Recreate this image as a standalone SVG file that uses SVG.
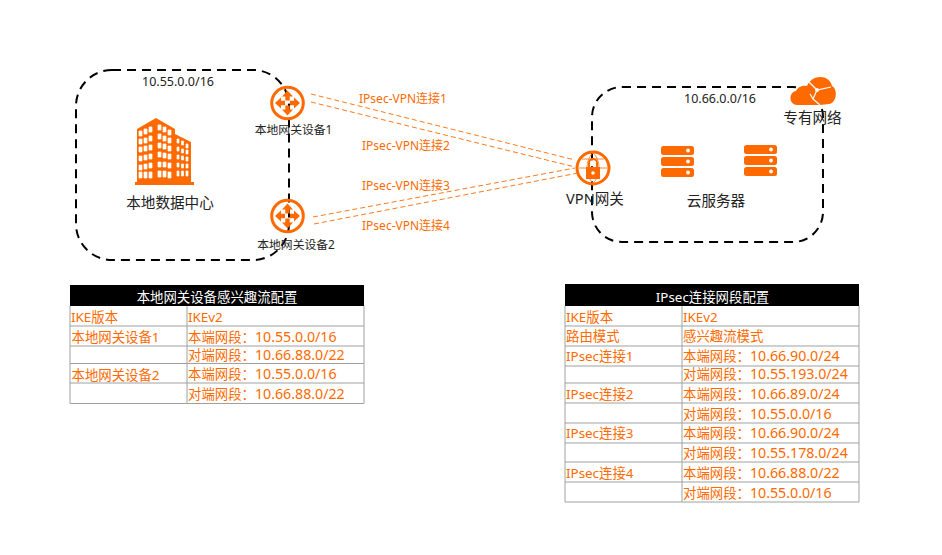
<svg xmlns="http://www.w3.org/2000/svg" width="942" height="555" viewBox="0 0 942 555">
<defs>
<style>
text{font-family:"Noto Sans","Noto Sans CJK SC",sans-serif;}
.k{fill:#222;}
.o{fill:#ff6a00;}
.t{fill:#ff6a00;font-size:13.400px;}
.t tspan{font-size:14.200px;}
.l{fill:#ff6a00;font-size:12px;text-anchor:middle;}
.w{fill:#fff;font-size:13.400px;text-anchor:middle;}
.box{fill:none;stroke:#000;stroke-width:2;stroke-dasharray:9 6;}
.link{fill:none;stroke:#ff7a1a;stroke-width:1;stroke-dasharray:5 3;}
.grid{stroke:#a0a0a0;stroke-width:1;fill:none;}
.ring{fill:none;stroke:#ff6a00;stroke-width:3;}
</style>
<g id="router">
<circle class="ring" r="15.800"/>
<path class="o" d="M0-12.500 5.500-6.500H2.200V-2.500H-2.200V-6.500H-5.500ZM0 12.500 5.500 6.500H2.200V2.500H-2.200V6.500H-5.500ZM-12.500 0-6.500-5.500V-2.200H-2.500V2.200H-6.500V5.500ZM12.500 0 6.500-5.500V-2.200H2.500V2.200H6.500V5.500Z"/>
</g>
<g id="server">
<rect class="o" x="0" y="0" width="33" height="9" rx="2.500"/>
<rect class="o" x="0" y="11" width="33" height="9" rx="2.500"/>
<rect class="o" x="0" y="22" width="33" height="9" rx="2.500"/>
<circle cx="27" cy="4.500" r="1.900" fill="#fff"/><circle cx="27" cy="15.500" r="1.900" fill="#fff"/><circle cx="27" cy="26.500" r="1.900" fill="#fff"/>
</g>
</defs>
<rect width="942" height="555" fill="#fff"/>

<g id="local-dc">
<rect class="box" x="76" y="70" width="213" height="190" rx="36"/>
<text x="178" y="86" class="k" font-size="12.500" text-anchor="middle">10.55.0.0/16</text>
<g id="building">
<path class="o" d="M137 182V129L156 118 175 129V134L191 142V182H194V185H135V182Z"/>
<path fill="#fff" stroke="#fff" stroke-width=".7" d="M139 131h3v5h-3zM144 129h3v5h-3zM149 127h3v5h-3zM158 125h3v5h-3zM163 127h3v5h-3zM168 130h3v5h-3zM139 139h3v5h-3zM144 138h3v5h-3zM149 136h3v5h-3zM158 134h3v5h-3zM163 136h3v5h-3zM168 138h3v5h-3zM139 147h3v5h-3zM144 146h3v5h-3zM149 145h3v5h-3zM158 143h3v5h-3zM163 144h3v5h-3zM168 146h3v5h-3zM139 156h3v5h-3zM144 155h3v5h-3zM149 154h3v5h-3zM158 152h3v5h-3zM163 153h3v5h-3zM168 154h3v5h-3zM139 165h3v5h-3zM144 164h3v5h-3zM149 163h3v5h-3zM158 162h3v5h-3zM163 162h3v5h-3zM168 163h3v5h-3zM139 172h3v6h-3zM144 172h3v6h-3zM149 172h3v6h-3zM158 171h3v6h-3zM163 171h3v6h-3zM168 172h3v6h-3zM177 139h2v4h-2zM181.500 141h2v4h-2zM186 144h2v4h-2zM177 147h2v4h-2zM181.500 149h2v4h-2zM186 150h2v4h-2zM177 155h2v4h-2zM181.500 156h2v4h-2zM186 157h2v4h-2zM177 163h2v4h-2zM181.500 164h2v4h-2zM186 164h2v4h-2zM177 171h2v5h-2zM181.500 171h2v5h-2zM186 171h2v5h-2z"/>
</g>
<text x="170" y="208" class="k" font-size="14.600" text-anchor="middle">本地数据中心</text>
</g>

<g id="connectors">
<path class="link" d="M311 94 575 160"/>
<path class="link" d="M311 102 575 167"/>
<path class="link" d="M313 217 575 168"/>
<path class="link" d="M314 224 578 173"/>
</g>

<g id="router1">
<use href="#router" x="287.500" y="103"/>
<text x="293.500" y="134" class="k" font-size="11.800" text-anchor="middle">本地网关设备1</text>
</g>
<g id="router2">
<use href="#router" x="287.500" y="216"/>
<text x="296" y="249" class="k" font-size="11.800" text-anchor="middle">本地网关设备2</text>
</g>

<g id="link-labels">
<text x="403" y="103" class="l">IPsec-VPN连接1</text>
<text x="406" y="150" class="l">IPsec-VPN连接2</text>
<text x="406" y="190" class="l">IPsec-VPN连接3</text>
<text x="406" y="230" class="l">IPsec-VPN连接4</text>
</g>

<g id="vpc">
<rect class="box" x="592" y="87" width="231" height="155" rx="30"/>
<text x="720" y="103" class="k" font-size="12.500" text-anchor="middle">10.66.0.0/16</text>
<g id="cloud">
<path class="o" d="M797 105C788 104 789 92 796 91 798 86 804 85 807 86 811 75 829 73 832 86 838 89 837 103 829 104L820 105Z"/>
<path fill="none" stroke="#fff" stroke-width="1.200" d="M806 79 817 90 831 87M817 90 813 99 820 105M813 99 810 94"/>
<circle cx="817" cy="90" r="2" fill="#fff"/>
</g>
<text x="812.500" y="123" class="k" font-size="14.600" text-anchor="middle">专有网络</text>
<use href="#server" x="661" y="146"/>
<use href="#server" x="744" y="145"/>
<text x="716" y="206" class="k" font-size="14.600" text-anchor="middle">云服务器</text>
</g>

<g id="vpn-gateway">
<circle class="ring" cx="593" cy="168" r="16"/>
<path fill="none" stroke="#ff6a00" stroke-width=".8" d="M579 168H607M593 153C585 160 585 176 593 183M593 153C601 160 601 176 593 183M582 159H604"/>
<rect class="o" x="586" y="167" width="14" height="12"/>
<path fill="none" stroke="#ff6a00" stroke-width="2" d="M589 167V163A4 4 0 0 1 597 163V167"/>
<circle cx="593" cy="173" r="1.800" fill="#fff"/>
<text x="595" y="204" class="k" font-size="14.600" text-anchor="middle">VPN网关</text>
</g>

<g id="table-local">
<rect x="70" y="285" width="294" height="21" fill="#000"/>
<path class="grid" d="M70 306V403.500H364V306M70 326H364M70 346H364M70 363.500H364M70 383H364M187 306V403.500"/>
<text x="217" y="302" class="w">本地网关设备感兴趣流配置</text>
<text x="71" y="322" class="t">IKE版本</text><text x="188" y="322" class="t">IKEv2</text>
<text x="71.500" y="342" class="t">本地网关设备1</text><text x="188" y="342" class="t">本端网段：<tspan>10.55.0.0/16</tspan></text>
<text x="188" y="360" class="t">对端网段：<tspan>10.66.88.0/22</tspan></text>
<text x="71.500" y="380" class="t">本地网关设备2</text><text x="188" y="379" class="t">本端网段：<tspan>10.55.0.0/16</tspan></text>
<text x="188" y="399" class="t">对端网段：<tspan>10.66.88.0/22</tspan></text>
</g>

<g id="table-ipsec">
<rect x="565" y="284" width="294" height="22" fill="#000"/>
<path class="grid" d="M565 306V502H859V306M565 326H859M565 346H859M565 366H859M565 383H859M565 403H859M565 423H859M565 443H859M565 462H859M565 482H859M682 306V502"/>
<text x="712.500" y="302" class="w">IPsec连接网段配置</text>
<text x="566" y="322" class="t">IKE版本</text><text x="683" y="322" class="t">IKEv2</text>
<text x="566" y="341" class="t">路由模式</text><text x="683" y="341" class="t">感兴趣流模式</text>
<text x="566" y="361" class="t">IPsec连接1</text><text x="683" y="361" class="t">本端网段：<tspan>10.66.90.0/24</tspan></text>
<text x="683" y="379" class="t">对端网段：<tspan>10.55.193.0/24</tspan></text>
<text x="566" y="399" class="t">IPsec连接2</text><text x="683" y="399" class="t">本端网段：<tspan>10.66.89.0/24</tspan></text>
<text x="683" y="419" class="t">对端网段：<tspan>10.55.0.0/16</tspan></text>
<text x="566" y="438" class="t">IPsec连接3</text><text x="683" y="438" class="t">本端网段：<tspan>10.66.90.0/24</tspan></text>
<text x="683" y="458" class="t">对端网段：<tspan>10.55.178.0/24</tspan></text>
<text x="566" y="478" class="t">IPsec连接4</text><text x="683" y="478" class="t">本端网段：<tspan>10.66.88.0/22</tspan></text>
<text x="683" y="498" class="t">对端网段：<tspan>10.55.0.0/16</tspan></text>
</g>
</svg>
